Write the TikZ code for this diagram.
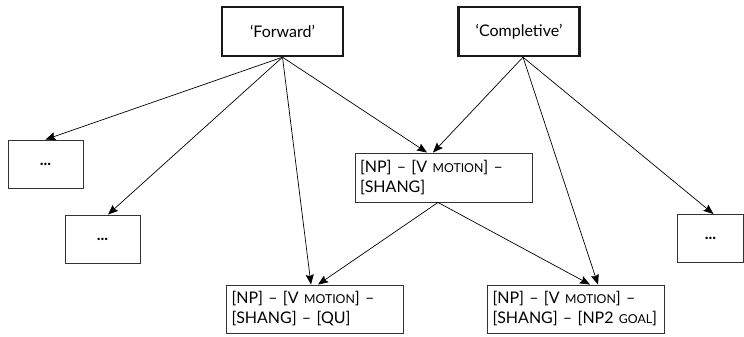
\documentclass[tikz,border=0pt]{standalone}
\usepackage{fontspec}
\setmainfont{Lato}
\usetikzlibrary{arrows.meta}
\newcommand{\smc}[1]{{\fontsize{12.3}{15}\selectfont #1}}

\begin{document}
\begin{tikzpicture}[x=1pt,y=-1pt,font=\fontsize{16}{20}\selectfont,
  sense/.style={draw=black!90,line width=2.4pt,minimum width=121pt,minimum height=49pt,inner sep=0pt},
  cxn/.style={draw=black!80,line width=0.9pt,minimum height=49pt,text width=167pt,align=left,inner sep=5pt},
  dots/.style={draw=black!80,line width=0.9pt,minimum width=75pt,minimum height=48pt,inner sep=0pt},
  link/.style={-{Stealth[length=10pt,width=8pt,inset=1.5pt]},line width=0.7pt}]
\useasboundingbox (0,0) rectangle (744,337);
% top level senses
\node[sense] (fwd) at (282.5,31.5) {`Forward'};
\node[sense] (cmp) at (519,31.5) {`Completive'};
% constructions
\node[dots] (dotsA) at (45.5,164) {\textbf{...}};
\node[dots] (dotsB) at (102.5,239) {\textbf{...}};
\node[dots,minimum width=66pt] (dotsC) at (710.5,238.5) {\textbf{...}};
\node[cxn] (mid) at (443.5,177.5) {[NP] -- [V \smc{MOTION}] --\\\relax[SHANG]};
\node[cxn,minimum height=48pt] (qu) at (315,309) {[NP] -- [V \smc{MOTION}] --\\\relax[SHANG] -- [QU]};
\node[cxn,minimum height=48pt] (goal) at (576,309) {[NP] -- [V \smc{MOTION}] --\\\relax[SHANG] -- \mbox{[NP2 \smc{GOAL}]}};
% links
\draw[link] (fwd.south) -- (dotsA.north);
\draw[link] (fwd.south) -- ([xshift=5.5]dotsB.north);
\draw[link] (fwd.south) -- ([xshift=-4]qu.north);
\draw[link] (fwd.south) -- ([xshift=-16.5]mid.north);
\draw[link] ([xshift=4]cmp.south) -- ([xshift=-10.5]mid.north);
\draw[link] ([xshift=4]cmp.south) -- ([xshift=22]goal.north);
\draw[link] ([xshift=4]cmp.south) -- ([xshift=3]dotsC.north);
\draw[link] ([xshift=-5.5]mid.south) -- ([xshift=3]qu.north);
\draw[link] ([xshift=-5.5]mid.south) -- ([xshift=14]goal.north);
\end{tikzpicture}
\end{document}
